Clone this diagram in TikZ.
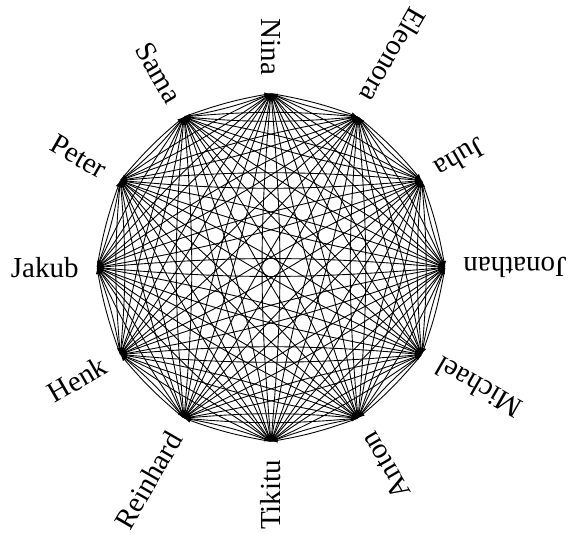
\documentclass[tikz,border=0pt]{standalone}
\usepackage{fontspec}
\setmainfont{Liberation Serif}
\usepackage{tikz}
\usetikzlibrary{arrows.meta}

\begin{document}
\begin{tikzpicture}[line width=0.5pt,>={Latex[length=3.5pt,width=2.6pt]}]
  \tikzset{person/.style={inner sep=0pt,minimum size=0pt},
           lbl/.style={anchor=east,inner sep=0pt,font=\fontsize{16.5}{20}\selectfont},
           link/.style={->,bend left=5}}
  \useasboundingbox (-5.42,-5.41) rectangle (6.08,5.35);
  % people on the circle
  \foreach \name [count=\i from 0] in {Jonathan,Juha,Eleonora,Nina,Sama,Peter,Jakub,Henk,Reinhard,Tikitu,Anton,Michael} {
    \node[person] (v\i) at (\i*30:3.48) {};
    \node[lbl,rotate=\i*30+180] (l\i) at (\i*30:3.84) {\name};
  }
  % every ordered pair is linked
  \foreach \i in {0,...,11}
    \foreach \j in {0,...,11} {
      \ifnum\i=\j\else \draw[link] (v\i) to (v\j); \fi
    }
\end{tikzpicture}
\end{document}
